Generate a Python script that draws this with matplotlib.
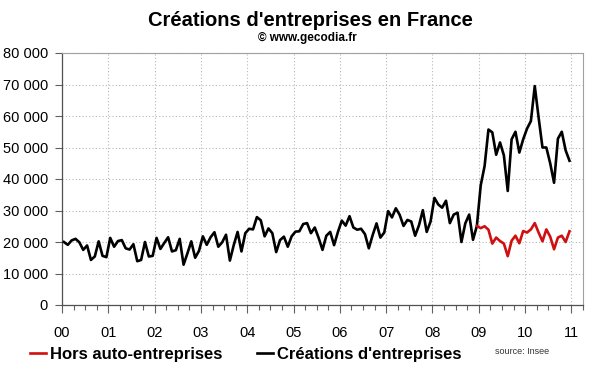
import numpy as np
import matplotlib
matplotlib.use("Agg")
import matplotlib.pyplot as plt
from matplotlib.lines import Line2D
from matplotlib.ticker import FuncFormatter, MultipleLocator

plt.rcParams["font.family"] = ["Liberation Sans", "DejaVu Sans"]

# ----------------------------
# Data (monthly, Jan 2000 - Dec 2010)
# ----------------------------

year_labels = ["00", "01", "02", "03", "04", "05", "06", "07", "08", "09", "10", "11"]

creations = [
    # 2000
    20000, 19100, 20500, 21000, 19900, 17500, 18900, 14300, 15400, 20200, 15600, 15200,
    # 2001
    21300, 18500, 20300, 20600, 18000, 17600, 19300, 13900, 14300, 20000, 15400, 15600,
    # 2002
    21300, 17800, 19700, 21500, 17000, 17400, 21000, 12800, 16400, 20200, 15000, 17200,
    # 2003
    21800, 19100, 21500, 23100, 18500, 19900, 22300, 14100, 19000, 23200, 17000, 22800,
    # 2004
    24200, 24000, 27900, 26900, 21800, 24300, 22800, 16800, 20600, 21700, 18500, 21800,
    # 2005
    23300, 23400, 25700, 26000, 22800, 24600, 21300, 17500, 22000, 23200, 19000, 23200,
    # 2006
    26800, 25200, 28200, 24600, 23900, 24200, 22500, 18000, 22200, 25900, 21400, 23000,
    # 2007
    29800, 27800, 30700, 28600, 25100, 27000, 26500, 22000, 25300, 30100, 23200, 26500,
    # 2008
    34000, 31900, 30900, 33100, 26000, 28700, 29300, 20000, 25900, 28700, 20700, 25100,
    # 2009
    38000, 44100, 55700, 54800, 47700, 51600, 47500, 36200, 52600, 55000, 48400, 52600,
    # 2010
    56000, 58400, 69500, 59500, 50000, 50000, 45000, 38800, 52800, 55000, 49100, 45800,
]

# Dec 2008 - Dec 2010
hors_auto = [
    25100,
    24400, 25000, 23900, 19500, 21400, 20300, 19500, 15500, 20400, 22000, 19600, 23500,
    23000, 24000, 26000, 23000, 20200, 24000, 21700, 17700, 21400, 22000, 20000, 23400,
]
hors_auto_start = 107  # month index of Dec 2008

# ----------------------------
# Figure
# ----------------------------

fig = plt.figure(figsize=(6.0, 3.72), dpi=100)
ax = fig.add_axes([62 / 600, 67 / 372, 521 / 600, 252 / 372])

x_all = np.arange(len(creations)) + 0.5
x_red = np.arange(hors_auto_start, hors_auto_start + len(hors_auto)) + 0.5

ax.plot(x_all, creations, color="black", lw=1.9, zorder=3)
ax.plot(x_red, hors_auto, color="#d01010", lw=1.9, zorder=4)

ax.set_xlim(0, 135)
ax.set_ylim(0, 80000)

ax.set_xticks(np.arange(0, 133, 12))
ax.set_xticklabels(year_labels)
ax.xaxis.set_minor_locator(MultipleLocator(3))
ax.yaxis.set_major_locator(MultipleLocator(10000))
ax.yaxis.set_major_formatter(FuncFormatter(lambda v, p: f"{int(v):,}".replace(",", " ")))

ax.grid(True, which="major", color="#b8b8b8", linestyle=(0, (1, 2)), lw=0.8)
ax.set_axisbelow(True)

ax.tick_params(axis="x", which="major", direction="out", length=6, width=0.8,
               pad=9, labelsize=10.5, color="#606060")
ax.tick_params(axis="x", which="minor", direction="out", length=3.5, width=0.8,
               color="#606060")
ax.tick_params(axis="y", which="major", direction="out", length=5, width=0.8,
               pad=5, labelsize=10.5, color="#606060")

for side in ["top", "right"]:
    ax.spines[side].set_color("#a0a0a0")
    ax.spines[side].set_linewidth(0.8)
for side in ["left", "bottom"]:
    ax.spines[side].set_color("#505050")
    ax.spines[side].set_linewidth(0.9)

# ----------------------------
# Titles
# ----------------------------

fig.text(0.518, 0.945, "Créations d'entreprises en France", ha="center", va="center",
         fontsize=14.5, fontweight="bold")
fig.text(0.512, 0.897, "© www.gecodia.fr", ha="center", va="center",
         fontsize=8.5, fontweight="bold")

# ----------------------------
# Legend
# ----------------------------

handles = [
    Line2D([], [], color="#d01010", lw=1.9),
    Line2D([], [], color="black", lw=1.9),
]
fig.legend(handles, ["Hors auto-entreprises", "Créations d'entreprises"],
           loc="center left", bbox_to_anchor=(0.025, 0.047), ncol=2,
           frameon=False, handlelength=0.95, handletextpad=0.25, columnspacing=2.1,
           prop={"weight": "bold", "size": 12})

fig.text(0.825, 0.055, "source: Insee", ha="left", va="center", fontsize=6.5,
         color="#333333")

fig.savefig("out.png", dpi=100)
